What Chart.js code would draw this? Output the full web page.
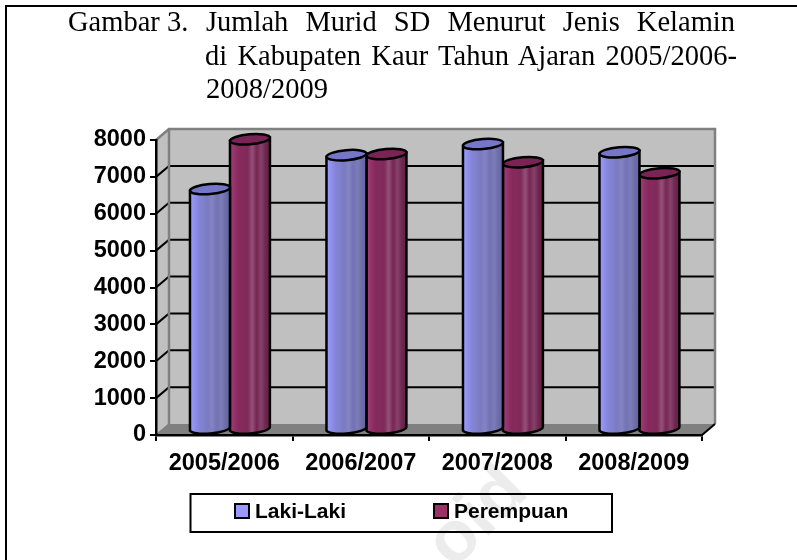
<!DOCTYPE html>
<html>
<head>
<meta charset="utf-8">
<script src="https://cdn.jsdelivr.net/npm/chart.js@4"></script>
<style>
html,body{margin:0;padding:0;background:#fff;overflow:hidden}
#wrap{position:relative;width:797px;height:560px}
canvas{position:absolute;left:0;top:0}
.frame{position:absolute;left:5px;top:5px;width:792px;height:555px;border-left:2.5px solid #000;border-top:2.5px solid #000;box-sizing:border-box}
.t{position:absolute;font-family:"Liberation Serif",serif;font-size:28.5px;color:#000;white-space:nowrap;line-height:30px}
.j{white-space:normal;text-align:justify;text-align-last:justify}
</style>
</head>
<body>
<div id="wrap">
<canvas id="c" width="797" height="560"></canvas>
<div class="frame"></div>
<div class="t" style="left:68px;top:7px;">Gambar 3.</div>
<div class="t j" style="left:206px;top:7px;width:529px;">Jumlah Murid SD Menurut Jenis Kelamin</div>
<div class="t j" style="left:205px;top:41px;width:532px;">di Kabupaten Kaur Tahun Ajaran 2005/2006-</div>
<div class="t" style="left:206px;top:74px;">2008/2009</div>
</div>
<script>
const categories = ['2005/2006', '2006/2007', '2007/2008', '2008/2009'];
const lakiLaki = [6520, 7440, 7740, 7520];
const perempuan = [7870, 7470, 7250, 6950];
const seriesNames = ['Laki-Laki', 'Perempuan'];
const flatColors = ['#8585dc', '#862c5e'];
const topColors = ['#7676c8', '#7a2456'];
const legendColors = ['#9999ff', '#993366'];
const shades = [
  ['#9c9cff','#9090ee','#8484d8','#8080cc','#7a7ac0','#8484c4','#7272b4','#7c7cb8','#6c6caa','#6464a0'],
  ['#a04078','#94336a','#86295c','#842a5c','#7e2a58','#94507c','#762652','#86426c','#6e264e','#622244']
];
const depthX = 13, depthY = 11;

function wall(ctx, pts, fill, stroke, lw) {
  ctx.beginPath();
  pts.forEach((p, i) => i ? ctx.lineTo(p[0], p[1]) : ctx.moveTo(p[0], p[1]));
  ctx.closePath();
  if (fill) { ctx.fillStyle = fill; ctx.fill(); }
  if (stroke) { ctx.strokeStyle = stroke; ctx.lineWidth = lw; ctx.stroke(); }
}

const cylinders = {
  id: 'cylinders',
  beforeDraw(chart) {
    const { ctx, chartArea: a, scales: { y } } = chart;
    const base = y.getPixelForValue(0), top = y.getPixelForValue(8000);
    ctx.save();
    // watermark
    ctx.save();
    ctx.translate(478, 518);
    ctx.rotate(-Math.PI / 4);
    ctx.fillStyle = '#ececec';
    ctx.font = 'bold 72px "Liberation Sans"';
    ctx.textAlign = 'center';
    ctx.textBaseline = 'middle';
    ctx.fillText('oid', 0, 0);
    ctx.restore();
    // walls
    wall(ctx, [[a.left, top],[a.left + depthX, top - depthY],[a.left + depthX, base - depthY],[a.left, base]], '#c0c0c0', '#808080', 1);
    wall(ctx, [[a.left + depthX, top - depthY],[a.right + depthX, top - depthY],[a.right + depthX, base - depthY],[a.left + depthX, base - depthY]], '#c0c0c0');
    wall(ctx, [[a.left, base],[a.right, base],[a.right + depthX, base - depthY],[a.left + depthX, base - depthY]], '#808080');
    // gridlines
    y.ticks.forEach(t => {
      if (t.value === 0 || t.value === 8000) return;
      const py = y.getPixelForValue(t.value);
      ctx.beginPath();
      ctx.moveTo(a.left, py);
      ctx.lineTo(a.left + depthX, py - depthY);
      ctx.lineTo(a.right + depthX - 1, py - depthY);
      ctx.strokeStyle = '#000';
      ctx.lineWidth = 2;
      ctx.stroke();
    });
    // wall edges
    ctx.strokeStyle = '#808080';
    ctx.lineWidth = 2.5;
    ctx.beginPath();
    ctx.moveTo(a.left + depthX, base - depthY);
    ctx.lineTo(a.left + depthX, top - depthY);
    ctx.lineTo(a.right + depthX, top - depthY);
    ctx.lineTo(a.right + depthX, base - depthY);
    ctx.moveTo(a.left, top);
    ctx.lineTo(a.left + depthX, top - depthY);
    ctx.stroke();
    ctx.lineWidth = 1.5;
    ctx.beginPath();
    ctx.moveTo(a.left, base);
    ctx.lineTo(a.left + depthX, base - depthY);
    ctx.stroke();
    ctx.strokeStyle = '#000';
    ctx.lineWidth = 2;
    ctx.beginPath();
    ctx.moveTo(a.right, base);
    ctx.lineTo(a.right + depthX, base - depthY);
    ctx.stroke();
    ctx.restore();
  },
  beforeDatasetDraw(chart) {
    chart.ctx.save();
    chart.ctx.translate(depthX * 0.44, -depthY / 2);
  },
  afterDatasetDraw(chart, args) {
    const ctx = chart.ctx;
    const tilt = -0.085, ry = 5;
    chart.getDatasetMeta(args.index).data.forEach(el => {
      const rx = el.width / 2, l = el.x - rx, r = el.x + rx;
      const grad = ctx.createLinearGradient(l, 0, r, 0);
      shades[args.index].forEach((c, i, arr) => grad.addColorStop(i / (arr.length - 1), c));
      const dy = rx * Math.sin(-tilt);
      ctx.beginPath();
      ctx.moveTo(l, el.y + dy);
      ctx.lineTo(l, el.base + dy);
      ctx.ellipse(el.x, el.base, rx, ry, tilt, Math.PI, 0, true);
      ctx.lineTo(r, el.y - dy);
      ctx.closePath();
      ctx.fillStyle = grad;
      ctx.fill();
      ctx.strokeStyle = '#000';
      ctx.lineWidth = 2.5;
      ctx.stroke();
      ctx.beginPath();
      ctx.ellipse(el.x, el.y, rx, ry, tilt, 0, Math.PI * 2);
      ctx.fillStyle = topColors[args.index];
      ctx.fill();
      ctx.stroke();
    });
    ctx.restore();
  },
  afterDraw(chart) {
    const ctx = chart.ctx;
    ctx.save();
    ctx.strokeStyle = '#000';
    ctx.lineWidth = 2;
    ctx.strokeRect(190.5, 494, 421.5, 38);
    ctx.font = 'bold 21px "Liberation Sans"';
    ctx.textBaseline = 'middle';
    [235, 434].forEach((lx, i) => {
      ctx.fillStyle = legendColors[i];
      ctx.fillRect(lx, 504, 14, 14);
      ctx.lineWidth = 2;
      ctx.strokeRect(lx, 504, 14, 14);
      ctx.fillStyle = '#000';
      ctx.fillText(chart.data.datasets[i].label, lx + 20, 512);
    });
    ctx.restore();
  }
};

new Chart(document.getElementById('c'), {
  type: 'bar',
  data: {
    labels: categories,
    datasets: [
      { label: seriesNames[0], data: lakiLaki, backgroundColor: flatColors[0], categoryPercentage: 0.586, barPercentage: 1 },
      { label: seriesNames[1], data: perempuan, backgroundColor: flatColors[1], categoryPercentage: 0.586, barPercentage: 1 }
    ]
  },
  options: {
    responsive: false,
    animation: false,
    devicePixelRatio: 1,
    layout: { padding: { left: 0, right: 95, top: 140, bottom: 0 } },
    plugins: { legend: { display: false }, title: { display: false }, tooltip: { enabled: false } },
    scales: {
      x: {
        afterFit(s) { s.height = 125; },
        grid: { offset: true, drawOnChartArea: false, color: '#000', tickColor: '#000', tickLength: 6, lineWidth: 2 },
        border: { color: '#000', width: 2.5 },
        ticks: { color: '#000', font: { family: '"Liberation Sans"', size: 23.5, weight: 'bold' }, padding: 8, autoSkip: false, maxRotation: 0 }
      },
      y: {
        min: 0, max: 8000,
        afterFit(s) { s.width = 156; },
        grid: { drawOnChartArea: false, color: '#000', tickColor: '#000', tickLength: 6, lineWidth: 2 },
        border: { color: '#000', width: 2.5 },
        ticks: { stepSize: 1000, color: '#000', font: { family: '"Liberation Sans"', size: 23.5, weight: 'bold' }, padding: 4, callback: v => String(v) }
      }
    }
  },
  plugins: [cylinders]
});
</script>
</body>
</html>
